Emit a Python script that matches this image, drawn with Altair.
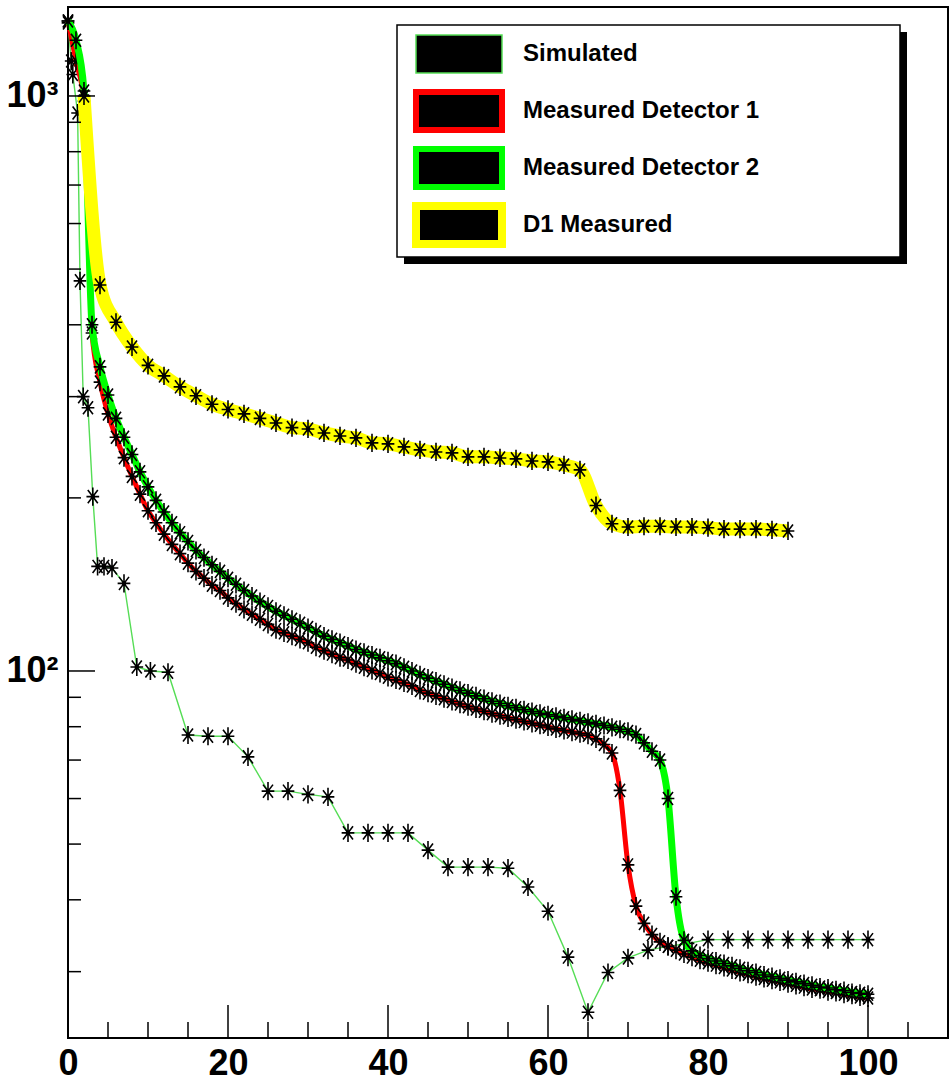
import altair as alt
import pandas as pd

# ---- data -------------------------------------------------------------
# Measured detector curves, one value per unit step
det_x = list(range(0, 101))
det1_y = [
    1350, 1150, 980, 387, 318, 280, 255, 235, 218, 203,
    190, 181, 173, 166, 160, 154, 149, 145, 141, 138,
    134, 131, 128, 125.5, 123, 120.5, 118, 116.5, 115, 113.5,
    112, 110, 108.5, 107, 105.5, 104.5, 103, 101.5, 100.2, 99,
    97.5, 96.5, 95.3, 94.2, 92.5, 91.5, 90.5, 89.5, 88.5, 87.6,
    86.7, 85.9, 85.1, 84.3, 83.6, 82.9, 82.3, 81.7, 81.1, 80.5,
    79.9, 79.3, 78.8, 78.3, 77.8, 77.3, 76.2, 74.5, 72, 62,
    46, 39, 36.4, 34.8, 33.8, 33.2, 32.7, 32.2, 31.8, 31.4,
    31.1, 30.8, 30.5, 30.2, 29.9, 29.7, 29.4, 29.2, 29.0, 28.8,
    28.6, 28.4, 28.2, 28.0, 27.9, 27.7, 27.6, 27.4, 27.3, 27.1, 27.0,
]
det2_y = [
    1350, 1250, 1020, 400, 338, 302, 275, 255, 238, 222,
    209, 198, 189, 181, 174, 168, 162, 157.5, 153, 149,
    145, 141.5, 138, 135, 132, 129.5, 127, 125, 123, 121,
    119, 117, 115, 113.5, 112, 110.5, 109, 107.8, 106.6, 105.4,
    104.2, 103, 101.5, 100, 98.5, 97.2, 96, 94.8, 93.6, 92.5,
    91.5, 90.5, 89.5, 88.6, 87.8, 87, 86.3, 85.6, 85, 84.4,
    83.9, 83.4, 82.9, 82.4, 81.9, 81.4, 80.9, 80.4, 79.8, 79.2,
    78.5, 77.5, 75, 72.5, 70, 60, 40.5, 34, 32.6, 32,
    31.6, 31.3, 31.0, 30.7, 30.4, 30.1, 29.9, 29.6, 29.4, 29.2,
    29.0, 28.8, 28.6, 28.4, 28.2, 28.1, 27.9, 27.8, 27.6, 27.5, 27.4,
]

# Simulated curve
sim_x = [
    0, 0.4, 0.6, 1.2, 1.5, 1.9, 2.5, 3.1, 3.7, 4.5,
    5.5, 7.0, 8.6, 10.3, 12.5, 15, 17.5, 20, 22.5, 25,
    27.5, 30, 32.5, 35, 37.5, 40, 42.5, 45, 47.5, 50,
    52.5, 55, 57.5, 60, 62.5, 65, 67.5, 70, 72.5, 75,
    77.5, 80, 82.5, 85, 87.5, 90, 92.5, 95, 97.5, 100,
]
sim_y = [
    1340, 1150, 1090, 934, 477, 300, 287, 201, 152, 152,
    151, 142, 101.6, 100, 99.5, 77.4, 77, 77, 70.9, 61.8,
    61.8, 61, 60.4, 52.3, 52.3, 52.3, 52.3, 48.8, 45.6, 45.6,
    45.6, 45.4, 42.1, 38.2, 31.8, 25.5, 29.9, 31.7, 32.7, 33.2,
    33.6, 34.1, 34.1, 34.1, 34.1, 34.1, 34.1, 34.1, 34.1, 34.1,
]

# D1 measured, every 2 units
d1_x = list(range(2, 91, 2))
d1_y = [
    1000, 469, 404, 366, 340, 326, 312, 301, 291,
    285, 280, 275, 270, 265, 263.6, 259.4, 256.3, 254.3, 249.3,
    248.3, 245.3, 242.4, 240.4, 239.5, 235.7, 235.7, 234.7, 233.8, 231.9,
    231, 228.2, 223.7, 194, 180.3, 178, 178.5, 178.5, 178, 178,
    177.5, 176.5, 176.5, 176.5, 176, 175.2,
]

legend_labels = ["Simulated", "Measured Detector 1", "Measured Detector 2", "\u00a0D1 Measured"]
x_tick_labels = [0, 20, 40, 60, 80, 100]
y_tick_labels = [100, 1000]
x_ticks = [v * 5 for v in range(0, 22)]
y_ticks = [30, 40, 50, 60, 70, 80, 90, 100, 200, 300, 400, 500, 600, 700, 800, 900, 1000]

# ---- styling ----------------------------------------------------------
W, H = 880, 1031
FONT = "Liberation Sans, Arial, Helvetica, sans-serif"
SIM_COLOR = "#55dd55"
STAR = "M-0.7,0H0.7M0,-1V1M-0.55,-0.72L0.55,0.72M-0.55,0.72L0.55,-0.72"

xs = alt.Scale(domain=[0, 110], nice=False, zero=False)
ys = alt.Scale(type="log", domain=[23.0, 1428], nice=False)
x_axis = alt.Axis(values=x_tick_labels, ticks=False, domain=False, grid=False, title=None,
                  labelFont=FONT, labelFontSize=36, labelFontWeight="bold",
                  labelColor="black", labelPadding=8, labelFlush=False)
y_axis = alt.Axis(values=y_tick_labels, ticks=False, domain=False, grid=False, title=None,
                  labelFont=FONT, labelFontSize=36, labelFontWeight="bold",
                  labelColor="black", labelPadding=10,
                  labelExpr="datum.value >= 1000 ? '10\u00b3' : '10\u00b2'")

X = alt.X("x:Q", scale=xs, axis=x_axis)
Y = alt.Y("y:Q", scale=ys, axis=y_axis)


def series(xv, yv, color, width, interp):
    df = pd.DataFrame({"x": xv, "y": yv})
    base = alt.Chart(df).encode(x=X, y=Y)
    line = base.mark_line(color=color, strokeWidth=width, interpolate=interp)
    stars = base.mark_point(shape=STAR, filled=False, color="black",
                            strokeWidth=1.6, size=330, opacity=1)
    dots = base.mark_point(shape="circle", filled=True, color="black", size=20, opacity=1)
    return [line, stars, dots]


layers = []
layers += series(sim_x, sim_y, SIM_COLOR, 1.4, "linear")
layers += series(det_x, det1_y, "#ff0000", 5, "monotone")
layers += series(det_x, det2_y, "#00ff00", 7, "monotone")
layers += series(d1_x, d1_y, "#ffff00", 13, "monotone")

# inward tick marks on both axes
xt = pd.DataFrame({"x": x_ticks})
xt["major"] = xt["x"] % 20 == 0
layers.append(alt.Chart(xt[xt["major"]]).mark_rule(color="black", strokeWidth=1.5).encode(
    x=X, y=alt.value(H), y2=alt.value(H - 33)))
layers.append(alt.Chart(xt[~xt["major"]]).mark_rule(color="black", strokeWidth=1.5).encode(
    x=X, y=alt.value(H), y2=alt.value(H - 16)))
yt = pd.DataFrame({"y": y_ticks})
yt["major"] = yt["y"].isin(y_tick_labels)
layers.append(alt.Chart(yt[yt["major"]]).mark_rule(color="black", strokeWidth=1.5).encode(
    y=Y, x=alt.value(0), x2=alt.value(27)))
layers.append(alt.Chart(yt[~yt["major"]]).mark_rule(color="black", strokeWidth=1.5).encode(
    y=Y, x=alt.value(0), x2=alt.value(13)))

# legend box with drop shadow
one = pd.DataFrame({"a": [0]})
layers.append(alt.Chart(one).mark_rect(fill="black").encode(
    x=alt.value(336), x2=alt.value(839), y=alt.value(25), y2=alt.value(257)))
layers.append(alt.Chart(one).mark_rect(fill="white", stroke="black", strokeWidth=1.5).encode(
    x=alt.value(329), x2=alt.value(832), y=alt.value(18), y2=alt.value(250)))

leg = pd.DataFrame({
    "label": legend_labels,
    "color": [SIM_COLOR, "#ff0000", "#00ff00", "#ffff00"],
    "sw": [1.5, 6, 6, 8],
})
leg["yc"] = [47 + 57 * i for i in range(len(leg))]
leg["y0"] = leg["yc"] - 19
leg["y1"] = leg["yc"] + 19
layers.append(alt.Chart(leg).mark_rect(fill="black").encode(
    x=alt.value(348), x2=alt.value(434),
    y=alt.Y("y0:Q", scale=None, axis=None), y2="y1:Q",
    stroke=alt.Stroke("color:N", scale=None, legend=None),
    strokeWidth=alt.StrokeWidth("sw:Q", scale=None, legend=None)))
layers.append(alt.Chart(leg).mark_text(align="left", baseline="middle", font=FONT,
                                       fontSize=24, fontWeight="bold", color="black").encode(
    x=alt.value(455), y=alt.Y("yc:Q", scale=None, axis=None), text="label:N"))

chart = alt.layer(*layers).properties(
    width=W, height=H,
    autosize=alt.AutoSizeParams(type="none"),
    padding={"left": 68, "top": 7, "right": 3, "bottom": 51},
    background="white",
).configure_view(stroke="black", strokeWidth=2)

chart.save("out.html", embed_options={"renderer": "svg", "actions": False})
